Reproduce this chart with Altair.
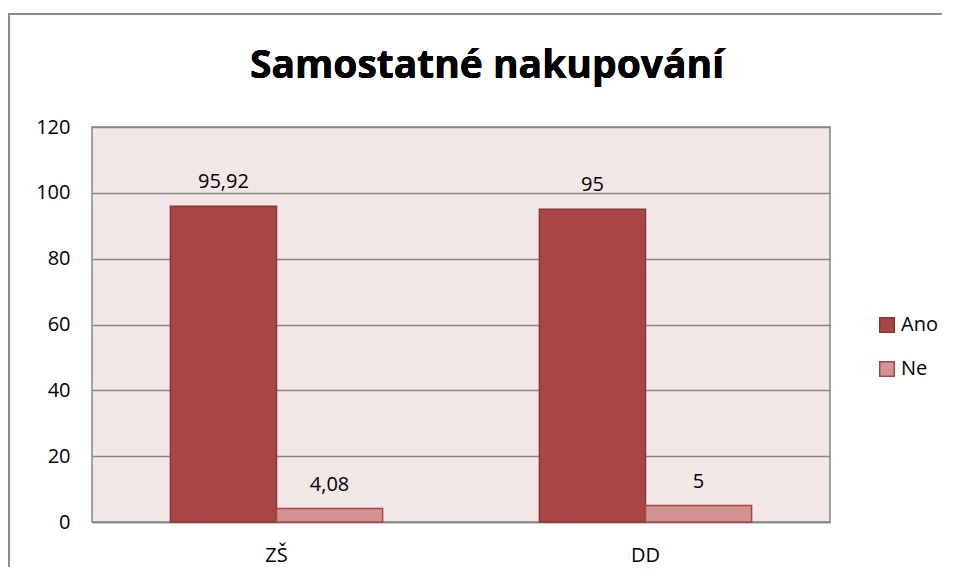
import altair as alt
import pandas as pd

TITLE = "Samostatné nakupování"
categories = ["ZŠ", "ZŠ", "DD", "DD"]
series = ["Ano", "Ne", "Ano", "Ne"]
values = [95.92, 4.08, 95, 5]
labels = ["95,92", "4,08", "95", "5"]
y_ticks = [0, 20, 40, 60, 80, 100, 120]

df = pd.DataFrame({"kat": categories, "serie": series, "hodnota": values, "popisek": labels})

FONT = "Open Sans, sans-serif"
FS = 20

x = alt.X("kat:N", sort=["ZŠ", "DD"], title=None,
          scale=alt.Scale(paddingInner=0.425, paddingOuter=0.2125),
          axis=alt.Axis(labelAngle=0, labelFontSize=FS, labelFont=FONT, labelColor="black",
                        ticks=False, labelPadding=23, domainColor="#868686", domainWidth=1.5))
xoff = alt.XOffset("serie:N", sort=["Ano", "Ne"], scale=alt.Scale(paddingInner=0, paddingOuter=0))
y = alt.Y("hodnota:Q", title=None,
          scale=alt.Scale(domain=[0, 120], nice=False),
          axis=alt.Axis(values=y_ticks, labelFontSize=FS, labelFont=FONT, labelColor="black",
                        ticks=False, domain=False, labelPadding=22, gridColor="#868686", gridWidth=1.5))
color = alt.Color("serie:N", sort=["Ano", "Ne"],
                  scale=alt.Scale(domain=["Ano", "Ne"], range=["#A84646", "#D49393"]),
                  legend=alt.Legend(title=None, orient="none", legendX=785, legendY=188,
                                    symbolType="square", symbolSize=210, labelFontSize=FS,
                                    labelFont=FONT, labelColor="black", rowPadding=22,
                                    symbolStrokeWidth=1.5, symbolOpacity=1, labelOffset=4))
stroke = alt.Stroke("serie:N", sort=["Ano", "Ne"],
                    scale=alt.Scale(domain=["Ano", "Ne"], range=["#8C3636", "#A84646"]),
                    legend=None)

bars = alt.Chart(df).mark_bar(strokeWidth=1.5, opacity=1).encode(
    x=x, xOffset=xoff, y=y, fill=color, stroke=stroke)

text = alt.Chart(df).mark_text(dy=-24, fontSize=FS, font=FONT, color="black").encode(
    x=x, xOffset=xoff, y=y, text="popisek:N")

border = alt.Chart(df).mark_rect(fill=None, stroke="#8C8C8C", strokeWidth=2).encode(
    x=alt.value(-83), x2=alt.value(900), y=alt.value(-113), y2=alt.value(470))

title = alt.Chart(df).mark_text(fontSize=39, font=FONT, fontWeight="bold", color="black",
                                align="center", baseline="alphabetic").encode(
    x=alt.value(395), y=alt.value(-49), text=alt.value(TITLE))

chart = alt.layer(border, bars, text, title).properties(
    width=738, height=395,
    autosize=alt.AutoSizeParams(type="none"),
    padding={"left": 84, "top": 119, "right": 112, "bottom": 45},
    background="white",
).configure_view(fill="#F2E6E6", stroke="#868686", strokeWidth=1.5)

chart.save("out.html", embed_options={"renderer": "svg", "actions": False})
